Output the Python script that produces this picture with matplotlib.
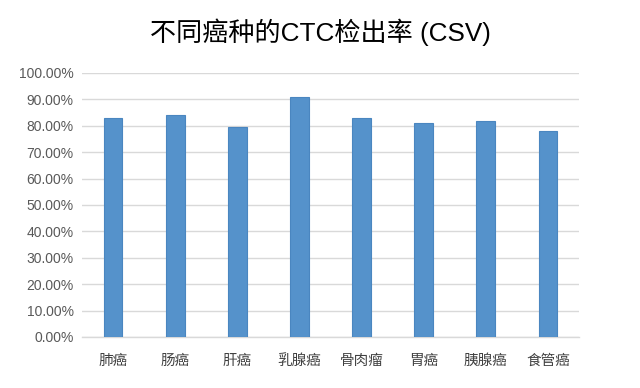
import matplotlib
matplotlib.use("Agg")
import matplotlib.pyplot as plt
from matplotlib.ticker import FuncFormatter

plt.rcParams['font.family'] = ['Liberation Sans', 'Noto Sans CJK SC', 'DejaVu Sans']

categories = ['肺癌', '肠癌', '肝癌', '乳腺癌', '骨肉瘤', '胃癌', '胰腺癌', '食管癌']
values = [0.831, 0.842, 0.797, 0.910, 0.831, 0.809, 0.820, 0.779]
yticks = [0.0, 0.1, 0.2, 0.3, 0.4, 0.5, 0.6, 0.7, 0.8, 0.9, 1.0]

fig = plt.figure(figsize=(6.4, 3.88), dpi=100)
ax = fig.add_axes([82/640, 1-337/388, (579-82)/640, (337-73)/388])

x = list(range(len(categories)))
ax.bar(x, values, width=0.3, color='#5592CB', edgecolor='#4A86C0', linewidth=0.8, zorder=3)

ax.set_xlim(-0.5, len(categories)-0.5)
ax.set_ylim(0, 1.0)
ax.set_yticks(yticks)
ax.yaxis.set_major_formatter(FuncFormatter(lambda v, p: f"{v*100:.2f}%"))
ax.set_xticks(x)
ax.set_xticklabels(categories, fontsize=10.5, color='#404040',
                   family=['Noto Sans CJK SC', 'DejaVu Sans'])
for lab in ax.get_yticklabels():
    lab.set_fontsize(10)
    lab.set_color('#595959')
ax.tick_params(axis='y', length=0, pad=6)
ax.tick_params(axis='x', length=0, pad=12)
ax.grid(axis='y', color='#D9D9D9', linewidth=1.0, zorder=0)
for s in ['top', 'right', 'left']:
    ax.spines[s].set_visible(False)
ax.spines['bottom'].set_color('#D9D9D9')
ax.spines['bottom'].set_linewidth(1.0)

fig.text(320/640, 1-32/388, '不同癌种的CTC检出率 (CSV)', ha='center', va='center',
         fontsize=18.8, color='#000000')

fig.savefig('out.png', dpi=100)
